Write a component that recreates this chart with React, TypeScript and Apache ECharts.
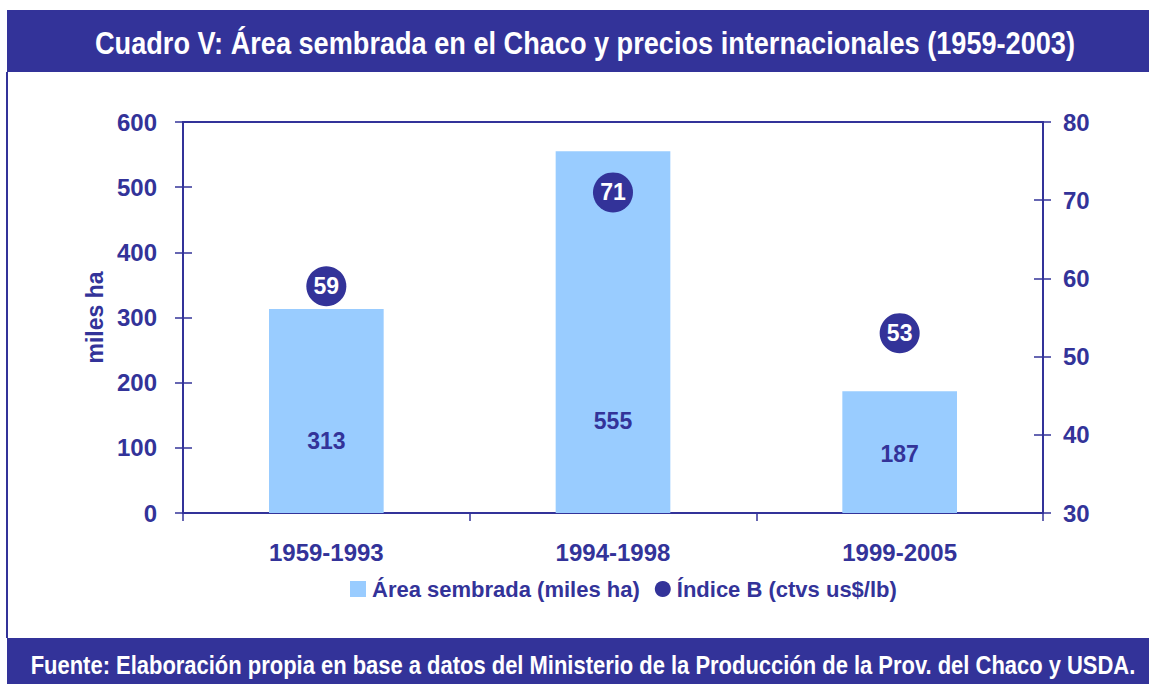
import React, { useEffect, useRef } from "react";
import * as echarts from "echarts";

const categories = ["1959-1993", "1994-1998", "1999-2005"];
const areaValues = [313, 555, 187];
const indexValues = [59, 71, 53];
const leftAxis = { min: 0, max: 600, interval: 100 };
const rightAxis = { min: 30, max: 80, interval: 10 };
const titleText = "Cuadro V: Área sembrada en el Chaco y precios internacionales (1959-2003)";
const footerText = "Fuente: Elaboración propia en base a datos del Ministerio de la Producción de la Prov. del Chaco y USDA.";
const seriesNames = ["Área sembrada (miles ha)", "Índice B (ctvs us$/lb)"];
const yAxisName = "miles ha";

// label layout (distance from bar base, px)
const barLabelDistances = [61, 81, 48];

const DARK = "#333399";
const LIGHT = "#99CCFF";
const FONT = "'Liberation Sans', Arial, sans-serif";

function measure(text: string, font: string): number {
  const ctx = document.createElement("canvas").getContext("2d");
  if (!ctx) return 1000;
  ctx.font = font;
  return ctx.measureText(text).width;
}

export default function App() {
  const ref = useRef<HTMLDivElement>(null);
  useEffect(() => {
    document.body.style.margin = "0";
    if (!ref.current) return;
    const chart = echarts.init(ref.current, null, { renderer: "svg" });

    const titleFont = "bold 32px " + FONT;
    const footerFont = "bold 26px " + FONT;
    const titleScale = 980 / measure(titleText, titleFont);
    const footerScale = 1106 / measure(footerText, footerFont);

    const axisLabelStyle = {
      color: DARK,
      fontWeight: "bold" as const,
      fontSize: 24,
      fontFamily: FONT,
    };

    chart.setOption({
      animation: false,
      backgroundColor: "#ffffff",
      textStyle: { fontFamily: FONT },
      grid: {
        left: 183,
        right: 106,
        top: 122,
        bottom: 171,
        show: true,
        borderColor: DARK,
        borderWidth: 2,
        backgroundColor: "transparent",
      },
      legend: {
        left: 345,
        top: 573,
        itemWidth: 16,
        itemHeight: 16,
        itemGap: 15,
        textStyle: {
          color: DARK,
          fontWeight: "bold",
          fontSize: 22,
          fontFamily: FONT,
          padding: [0, 0, 0, 1],
        },
        data: [
          { name: seriesNames[0], icon: "rect" },
          { name: seriesNames[1], icon: "circle" },
        ],
      },
      xAxis: {
        type: "category",
        data: categories,
        axisLine: { lineStyle: { color: DARK, width: 2 } },
        axisTick: { show: true, length: 8, lineStyle: { color: DARK, width: 1.5 } },
        axisLabel: { ...axisLabelStyle, margin: 27 },
      },
      yAxis: [
        {
          type: "value",
          position: "left",
          min: leftAxis.min,
          max: leftAxis.max,
          interval: leftAxis.interval,
          name: yAxisName,
          nameLocation: "middle",
          nameRotate: 90,
          nameGap: 76,
          nameTextStyle: { ...axisLabelStyle, fontSize: 23 },
          axisLine: { show: true, lineStyle: { color: DARK, width: 2 } },
          axisTick: { show: true, length: 8, lineStyle: { color: DARK, width: 1.5 } },
          axisLabel: { ...axisLabelStyle, margin: 26 },
          splitLine: { show: false },
        },
        {
          type: "value",
          position: "right",
          min: rightAxis.min,
          max: rightAxis.max,
          interval: rightAxis.interval,
          axisLine: { show: true, lineStyle: { color: DARK, width: 2 } },
          axisTick: { show: true, length: 8, lineStyle: { color: DARK, width: 1.5 } },
          axisLabel: { ...axisLabelStyle, margin: 20 },
          splitLine: { show: false },
        },
        {
          type: "value",
          position: "left",
          min: leftAxis.min,
          max: leftAxis.max,
          interval: leftAxis.interval,
          axisLine: { show: false },
          axisTick: { show: true, inside: true, length: 9, lineStyle: { color: DARK, width: 1.5 } },
          axisLabel: { show: false },
          splitLine: { show: false },
        },
        {
          type: "value",
          position: "right",
          min: rightAxis.min,
          max: rightAxis.max,
          interval: rightAxis.interval,
          axisLine: { show: false },
          axisTick: { show: true, inside: true, length: 9, lineStyle: { color: DARK, width: 1.5 } },
          axisLabel: { show: false },
          splitLine: { show: false },
        },
      ],
      series: [
        {
          name: seriesNames[0],
          type: "bar",
          yAxisIndex: 0,
          barWidth: "40%",
          itemStyle: { color: LIGHT },
          data: areaValues.map((v, i) => ({
            value: v,
            label: { distance: barLabelDistances[i] },
          })),
          label: {
            show: true,
            position: "insideBottom",
            color: DARK,
            fontWeight: "bold",
            fontSize: 23,
            fontFamily: FONT,
          },
          z: 2,
        },
        {
          name: seriesNames[1],
          type: "scatter",
          yAxisIndex: 1,
          symbol: "circle",
          symbolSize: 40,
          itemStyle: { color: DARK, opacity: 1 },
          data: indexValues,
          label: {
            show: true,
            position: "inside",
            color: "#ffffff",
            fontWeight: "bold",
            fontSize: 23,
            fontFamily: FONT,
          },
          z: 3,
        },
      ],
      graphic: [
        {
          type: "rect",
          shape: { x: 7, y: 10, width: 1142, height: 62 },
          style: { fill: DARK },
          z: 0,
        },
        {
          type: "rect",
          shape: { x: 6, y: 72, width: 2, height: 566 },
          style: { fill: DARK },
          z: 0,
        },
        {
          type: "rect",
          shape: { x: 7, y: 638, width: 1142, height: 46 },
          style: { fill: DARK },
          z: 0,
        },
        {
          type: "text",
          x: 585,
          y: 43,
          scaleX: titleScale,
          style: {
            text: titleText,
            fill: "#ffffff",
            font: titleFont,
            textAlign: "center",
            textVerticalAlign: "middle",
          },
          z: 1,
        },
        {
          type: "text",
          x: 583,
          y: 665,
          scaleX: footerScale,
          style: {
            text: footerText,
            fill: "#ffffff",
            font: footerFont,
            textAlign: "center",
            textVerticalAlign: "middle",
          },
          z: 1,
        },
      ],
    });
    return () => chart.dispose();
  }, []);
  return (
    <div
      ref={ref}
      style={{ position: "absolute", left: 0, top: 0, width: 1149, height: 684 }}
    />
  );
}
